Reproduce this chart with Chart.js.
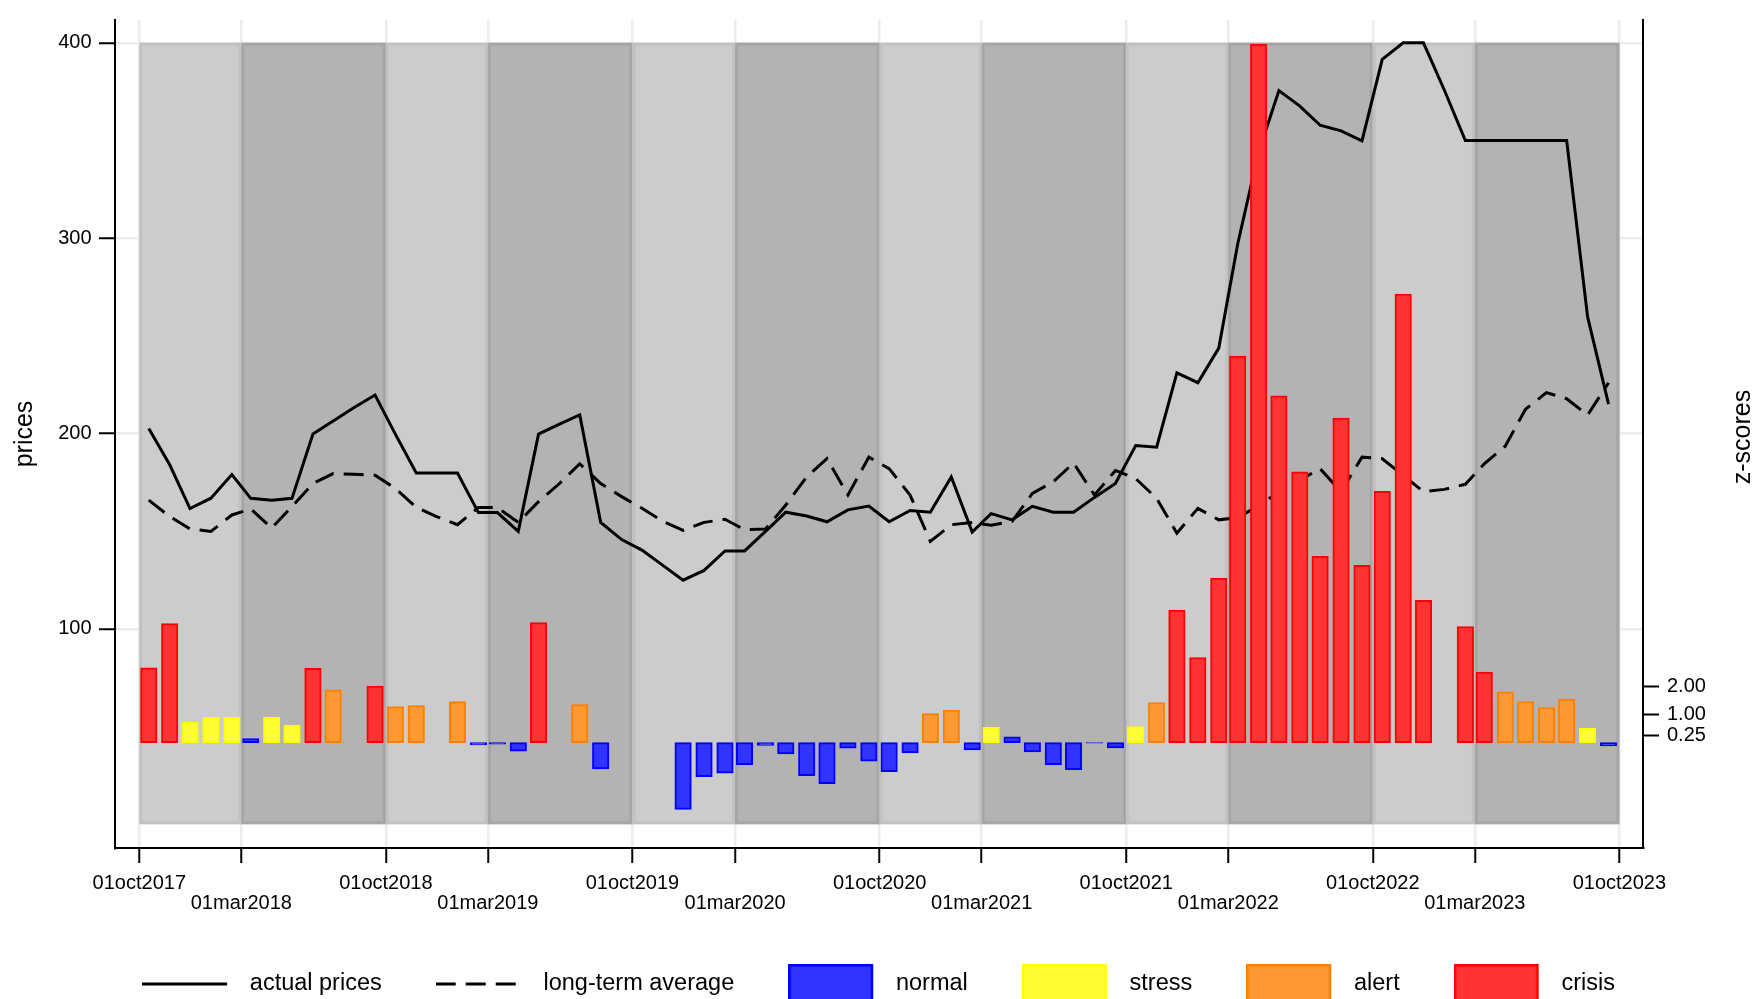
<!DOCTYPE html>
<html>
<head>
<meta charset="utf-8">
<script src="https://cdn.jsdelivr.net/npm/chart.js@4.4.1/dist/chart.umd.min.js"></script>
<style>
  html, body { margin: 0; padding: 0; background: #fff; overflow: hidden; }
  #chart { display: block; }
</style>
</head>
<body>
<canvas id="chart" width="1757" height="999"></canvas>
<script>
// monthly observations, plotted mid-month
const months = [
  '2017-10', '2017-11', '2017-12',
  '2018-01', '2018-02', '2018-03', '2018-04', '2018-05', '2018-06', '2018-07', '2018-08', '2018-09', '2018-10', '2018-11', '2018-12',
  '2019-01', '2019-02', '2019-03', '2019-04', '2019-05', '2019-06', '2019-07', '2019-08', '2019-09', '2019-10', '2019-11', '2019-12',
  '2020-01', '2020-02', '2020-03', '2020-04', '2020-05', '2020-06', '2020-07', '2020-08', '2020-09', '2020-10', '2020-11', '2020-12',
  '2021-01', '2021-02', '2021-03', '2021-04', '2021-05', '2021-06', '2021-07', '2021-08', '2021-09', '2021-10', '2021-11', '2021-12',
  '2022-01', '2022-02', '2022-03', '2022-04', '2022-05', '2022-06', '2022-07', '2022-08', '2022-09', '2022-10', '2022-11', '2022-12',
  '2023-01', '2023-02', '2023-03', '2023-04', '2023-05', '2023-06', '2023-07', '2023-08', '2023-09'
];

const actualPrices = [
  202.6, 184.0, 161.6,
  166.9, 179.0, 166.8, 165.9, 166.8, 199.7, 206.4, 213.3, 219.7, 199.7, 179.8, 179.8,
  179.8, 159.5, 159.5, 149.9, 199.7, 204.8, 209.5, 154.5, 145.7, 140.3, 132.5, 124.9,
  129.9, 139.9, 139.9, 149.9, 159.7, 157.8, 154.8, 160.9, 162.9, 154.8, 160.6, 159.7,
  177.8, 149.6, 159.0, 155.8, 162.7, 159.7, 159.7, 167.3, 174.4, 193.8, 193.0, 231.0,
  226.0, 243.7, 297.0, 344.0, 375.5, 367.6, 357.8, 354.9, 349.8, 391.5, 400.0, 400.0,
  375.7, 350.0, 350.0, 350.0, 350.0, 350.0, 350.0, 259.7, 215.0
];

const longTermAverage = [
  165.9, 157.5, 151.2,
  149.9, 158.3, 161.4, 151.6, 162.6, 174.4, 179.5, 179.1, 178.6, 171.9, 162.2, 157.5,
  153.3, 162.1, 162.1, 154.5, 165.1, 174.4, 184.5, 174.4, 167.7, 161.7, 155.0, 150.4,
  154.5, 156.1, 150.7, 151.1, 163.4, 177.8, 187.1, 168.5, 187.9, 182.0, 168.5, 144.8,
  153.3, 154.5, 153.0, 155.0, 169.3, 175.3, 184.9, 168.5, 181.1, 176.9, 166.8, 149.0,
  161.7, 155.8, 157.0, 163.0, 170.2, 176.1, 182.0, 170.2, 187.9, 187.1, 178.6, 170.2,
  171.4, 174.0, 184.5, 193.5, 212.4, 220.9, 217.8, 209.4, 226.0
];

const zScores = [
  2.68, 4.26, 0.74,
  0.91, 0.91, 0.15, 0.91, 0.63, 2.66, 1.89, null, 2.03, 1.29, 1.33, null,
  1.47, -0.08, -0.05, -0.30, 4.30, null, 1.36, -0.94, null, null, null, -2.39,
  -1.22, -1.09, -0.79, -0.10, -0.40, -1.18, -1.47, -0.20, -0.66, -1.04, -0.37, 1.04,
  1.17, -0.26, 0.55, 0.21, -0.33, -0.79, -0.97, -0.02, -0.19, 0.58, 1.44, 4.75,
  3.05, 5.89, 13.84, 25.0, 12.42, 9.70, 6.67, 11.62, 6.35, 9.00, 16.06, 5.10,
  null, 4.16, 2.53, 1.82, 1.47, 1.26, 1.56, 0.51, -0.12
];

const alertLevel = [
  'crisis', 'crisis', 'stress',
  'stress', 'stress', 'normal', 'stress', 'stress', 'crisis', 'alert', null, 'crisis', 'alert', 'alert', null,
  'alert', 'normal', 'normal', 'normal', 'crisis', null, 'alert', 'normal', null, null, null, 'normal',
  'normal', 'normal', 'normal', 'normal', 'normal', 'normal', 'normal', 'normal', 'normal', 'normal', 'normal', 'alert',
  'alert', 'normal', 'stress', 'normal', 'normal', 'normal', 'normal', 'normal', 'normal', 'stress', 'alert', 'crisis',
  'crisis', 'crisis', 'crisis', 'crisis', 'crisis', 'crisis', 'crisis', 'crisis', 'crisis', 'crisis', 'crisis', 'crisis',
  null, 'crisis', 'crisis', 'alert', 'alert', 'alert', 'alert', 'stress', 'normal'
];

const levels = ['normal', 'stress', 'alert', 'crisis'];
const levelFill = { normal: '#3333ff', stress: '#ffff33', alert: '#ff9933', crisis: '#ff3333' };
const levelBorder = { normal: '#0000ff', stress: '#ffff00', alert: '#ff8000', crisis: '#ff0000' };

const xTickLabels = [
  '01oct2017', '01mar2018', '01oct2018', '01mar2019', '01oct2019', '01mar2020', '01oct2020',
  '01mar2021', '01oct2021', '01mar2022', '01oct2022', '01mar2023', '01oct2023'
];
const priceTicks = [100, 200, 300, 400];
const zTicks = [0.25, 1, 2];
const bandRange = [0, 400];

const monthIdx = { jan: 0, feb: 1, mar: 2, apr: 3, may: 4, jun: 5, jul: 6, aug: 7, sep: 8, oct: 9, nov: 10, dec: 11 };
const origin = Date.UTC(2017, 9, 1);
const dayOf = (y, m, d) => (Date.UTC(y, m, d) - origin) / 86400000;
const monthDay = (s) => dayOf(+s.slice(0, 4), +s.slice(5, 7) - 1, 15);
const labelDay = (s) => dayOf(+s.slice(5), monthIdx[s.slice(2, 5)], +s.slice(0, 2));
const tickDays = xTickLabels.map(labelDay);

Chart.defaults.font.family = '"Liberation Sans", Arial, sans-serif';
Chart.defaults.color = '#000';

function swatch(paint) {
  const c = document.createElement('canvas');
  c.width = 96;
  c.height = 40;
  paint(c.getContext('2d'));
  return c;
}
const lineSwatch = (dash) => swatch(g => {
  g.strokeStyle = '#000';
  g.lineWidth = 3;
  g.setLineDash(dash);
  g.beginPath();
  g.moveTo(0, 20);
  g.lineTo(85, 20);
  g.stroke();
});
const boxSwatch = (fill, border) => swatch(g => {
  g.fillStyle = fill;
  g.fillRect(0, 0, 85, 40);
  g.strokeStyle = border;
  g.lineWidth = 2.5;
  g.strokeRect(1.25, 1.25, 82.5, 37.5);
});

const datasets = [
  {
    type: 'line', label: 'actual prices', order: 1,
    data: months.map((m, i) => ({ x: monthDay(m), y: actualPrices[i] })),
    borderColor: '#000', borderWidth: 3, pointRadius: 0, tension: 0,
    yAxisID: 'y', swatch: lineSwatch([])
  },
  {
    type: 'line', label: 'long-term average', order: 1,
    data: months.map((m, i) => ({ x: monthDay(m), y: longTermAverage[i] })),
    borderColor: '#000', borderWidth: 3, borderDash: [20, 10], pointRadius: 0, tension: 0,
    yAxisID: 'y', swatch: lineSwatch([20, 10])
  }
];
levels.forEach(level => {
  datasets.push({
    type: 'bar', label: level, order: 0,
    data: months.map((m, i) => ({ x: monthDay(m), y: zScores[i], lv: alertLevel[i] }))
      .filter(p => p.lv === level && p.y !== null),
    backgroundColor: levelFill[level], borderColor: levelBorder[level],
    borderWidth: 2, borderSkipped: false,
    grouped: false, barPercentage: 1, categoryPercentage: 1, maxBarThickness: 16.5,
    yAxisID: 'z', swatch: boxSwatch(levelFill[level], levelBorder[level])
  });
});

const seasonBands = {
  id: 'seasonBands',
  beforeDatasetsDraw(chart) {
    const { ctx, scales: { x, y } } = chart;
    const yTop = y.getPixelForValue(bandRange[1]);
    const yBot = y.getPixelForValue(bandRange[0]);
    ctx.save();
    for (let i = 0; i < tickDays.length - 1; i++) {
      const x0 = x.getPixelForValue(tickDays[i]);
      const x1 = x.getPixelForValue(tickDays[i + 1]);
      const light = i % 2 === 0;
      ctx.fillStyle = light ? '#cccccc' : '#b3b3b3';
      ctx.fillRect(x0, yTop, x1 - x0, yBot - yTop);
      ctx.strokeStyle = light ? '#c2c2c2' : '#a6a6a6';
      ctx.lineWidth = 3;
      ctx.strokeRect(x0 + 1.5, yTop + 1.5, x1 - x0 - 3, yBot - yTop - 3);
    }
    ctx.restore();
  }
};

const rightTitle = {
  id: 'rightTitle',
  afterDraw(chart) {
    const ctx = chart.ctx;
    ctx.save();
    ctx.translate(1743, 437);
    ctx.rotate(-Math.PI / 2);
    ctx.font = '25px "Liberation Sans", Arial, sans-serif';
    ctx.fillStyle = '#000';
    ctx.textAlign = 'center';
    ctx.textBaseline = 'middle';
    ctx.fillText('z-scores', 0, 0);
    ctx.restore();
  }
};

const gridColor = '#ececec';

new Chart(document.getElementById('chart'), {
  data: { datasets },
  options: {
    responsive: false,
    animation: false,
    devicePixelRatio: 1,
    events: [],
    layout: { padding: { top: 12, bottom: -6.75, left: 0, right: 0 } },
    scales: {
      x: {
        type: 'linear',
        offset: false,
        min: -36, max: 2226,
        afterBuildTicks: s => { s.ticks = tickDays.map(v => ({ value: v })); },
        afterFit: s => { s.height = 70.25; },
        ticks: {
          autoSkip: false, maxRotation: 0, minRotation: 0, padding: 10,
          font: { size: 20, lineHeight: 1 },
          callback: v => {
            const lab = xTickLabels[tickDays.indexOf(v)];
            return lab.slice(2, 5) === 'mar' ? ['', lab] : lab;
          }
        },
        grid: { offset: false, color: gridColor, lineWidth: 2.5, tickColor: '#000', tickWidth: 2, tickLength: 15 },
        border: { color: '#000', width: 2 }
      },
      y: {
        position: 'left',
        min: -12.17, max: 411.66,
        afterBuildTicks: s => { s.ticks = priceTicks.map(v => ({ value: v })); },
        afterFit: s => { s.width = 115; },
        ticks: { padding: 7.5, font: { size: 20 } },
        grid: { color: gridColor, lineWidth: 2.5, tickColor: '#000', tickWidth: 2, tickLength: 16 },
        border: { color: '#000', width: 2 },
        title: { display: true, text: 'prices', font: { size: 25 }, padding: { top: 10, bottom: 0 } }
      },
      z: {
        position: 'right',
        min: -3.77, max: 25.87,
        afterBuildTicks: s => { s.ticks = zTicks.map(v => ({ value: v })); },
        afterFit: s => { s.width = 114; },
        ticks: { padding: 8, font: { size: 20 }, callback: v => v.toFixed(2) },
        grid: { drawOnChartArea: false, tickColor: '#000', tickWidth: 2, tickLength: 16 },
        border: { color: '#000', width: 2 }
      }
    },
    plugins: {
      tooltip: { enabled: false },
      legend: {
        position: 'bottom',
        labels: {
          usePointStyle: true,
          pointStyleWidth: 96,
          padding: 54,
          color: '#000',
          font: { size: 23.5 },
          generateLabels: chart => chart.data.datasets.map((ds, i) => ({
            text: ds.label,
            pointStyle: ds.swatch,
            fillStyle: ds.backgroundColor || '#000',
            strokeStyle: ds.borderColor,
            lineWidth: 0,
            hidden: false,
            datasetIndex: i,
            fontColor: '#000'
          }))
        }
      }
    }
  },
  plugins: [seasonBands, rightTitle]
});
</script>
</body>
</html>
